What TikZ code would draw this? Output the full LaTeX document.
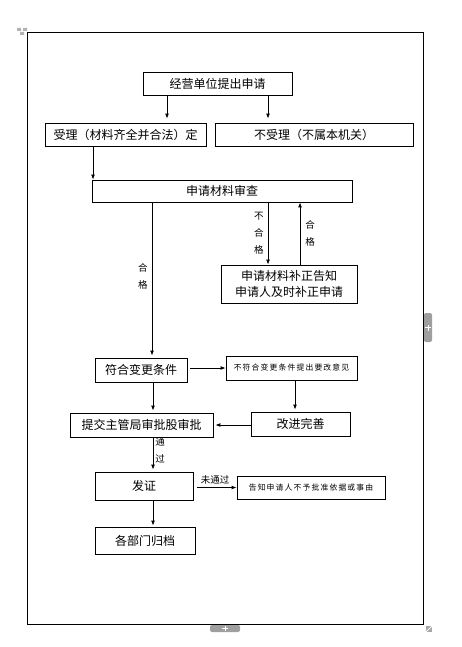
\documentclass[tikz,border=0pt]{standalone}
\usepackage{fontspec}
\setmainfont{Noto Sans CJK SC}
\newfontfamily\spaced[LetterSpace=15]{Noto Sans CJK SC}
\usetikzlibrary{arrows.meta}
\usetikzlibrary{positioning}
\newcommand{\stacked}[1]{%
    \begin{tabular}{@{}c@{}}
        #1
    \end{tabular}%
}
\begin{document}
\begin{tikzpicture}[x=1pt, y=-1pt,
                    box/.style={
                        draw, line width=0.8pt, inner sep=0pt,
                        font=\fontsize{12}{16}\selectfont
                    },
                    smallbox/.style={
                        box, font=\spaced\fontsize{7.8}{9}\selectfont
                    },
                    flow/.style={
                        draw, line width=0.9pt,
                        -{Latex[length=5pt,width=4pt]}
                    },
                    tag/.style={
                        inner sep=0pt,
                        font=\fontsize{9.5}{17}\selectfont
                    },
                    handle/.style={
                        fill=gray!75, draw=none
                    }]

    \useasboundingbox (0,0) rectangle (461,647);
    \draw[line width=0.8pt] (27,32) rectangle (423,624);

    % editor handles
    \fill[gray!60] (17,28) rectangle (21,31) (23,28) rectangle (27,31) (20,32) rectangle (24,35);
    \path[handle, rounded corners=2pt] (424,313) rectangle (432,342);
    \draw[white, line width=1pt] (425,327.5) -- (431,327.5) (428,324.5) -- (428,330.5);
    \path[handle, rounded corners=2pt] (210,625) rectangle (240,632);
    \draw[white, line width=1pt] (222,628.5) -- (228,628.5) (225,626) -- (225,631);
    \fill[gray!70] (426,626) -- (432,626) -- (432,632) -- (426,632) -- cycle;
    \draw[white, line width=0.8pt] (426,632) -- (432,626);

    % boxes
    \node[box, minimum width=149pt, minimum height=23pt] (apply) at (217.5,83.5) {经营单位提出申请};
    \node[box, minimum width=161pt, minimum height=23pt] (accept) at (125.5,134.5) {受理（材料齐全并合法）定};
    \node[box, minimum width=198pt, minimum height=23pt] (refuse) at (314,134.5) {不受理（不属本机关）};
    \node[box, minimum width=260pt, minimum height=22pt] (review) at (222,191) {申请材料审查};
    \node[box, minimum width=136pt, minimum height=38pt, align=center] (amend) at (289,284)
        {申请材料补正告知\\申请人及时补正申请};
    \node[box, minimum width=92pt, minimum height=24pt] (meet) at (141,370) {符合变更条件};
    \node[smallbox, minimum width=131pt, minimum height=24pt] (advice) at (291.5,368) {不符合变更条件提出要改意见};
    \node[box, minimum width=99pt, minimum height=24pt] (improve) at (300.5,424) {改进完善};
    \node[box, minimum width=143pt, minimum height=24pt] (submit) at (141.5,425) {提交主管局审批股审批};
    \node[box, minimum width=98pt, minimum height=28pt] (issue) at (144,486) {发证};
    \node[smallbox, minimum width=148pt, minimum height=23pt] (inform) at (311,487.5) {告知申请人不予批准依据或事由};
    \node[box, minimum width=100pt, minimum height=27pt] (archive) at (145,540.5) {各部门归档};

    % connector starts
    \coordinate (a1) at ([xshift=-50.5pt]apply.south);
    \coordinate (a2) at ([xshift=50.5pt]apply.south);
    \coordinate (c1) at ([xshift=-32.5pt]accept.south);
    \coordinate (r1) at ([xshift=11pt]meet.north |- review.south);
    \coordinate (r2) at ([xshift=-21pt]amend.north |- review.south);
    \coordinate (m1) at ([xshift=11pt]amend.north);
    \coordinate (v1) at ([xshift=3.5pt]advice.south);
    \coordinate (s1) at ([xshift=11.5pt]submit.north |- meet.south);
    \coordinate (s2) at ([xshift=11.5pt]submit.south);
    \coordinate (i1) at ([xshift=9pt]issue.south);

    % connectors
    \draw[flow, shorten >=4pt] (a1) -- (a1 |- accept.north);
    \draw[flow, shorten >=4pt] (a2) -- (a2 |- refuse.north);
    \draw[flow] (c1) -- (c1 |- review.north);
    \draw[flow, shorten >=2pt] (r1) -- (r1 |- meet.north)
        node[tag, pos=0.48, left=4pt] {\stacked{合\\格}};
    \draw[flow] (r2) -- (r2 |- amend.north)
        node[tag, midway, left=4pt] {\stacked{不\\合\\格}};
    \draw[flow] (m1) -- (m1 |- review.south)
        node[tag, midway, right=5pt] {\stacked{合\\格}};
    \draw[flow, shorten <=3pt] (meet.east |- advice) -- (advice.west);
    \draw[flow, shorten >=2pt] (v1) -- (v1 |- improve.north);
    \draw[flow, shorten >=2pt] (improve.west |- submit) -- (submit.east);
    \draw[flow, shorten >=2pt] (s1) -- (s1 |- submit.north);
    \draw[flow, shorten >=2pt] (s2) -- (s2 |- issue.north)
        node[tag, pos=0.4, right=2pt] {\stacked{通\\过}};
    \draw[flow, shorten <=4pt] (issue.east |- inform) -- (inform.west)
        node[tag, midway, above=3pt] {未通过};
    \draw[flow, shorten >=1pt] (i1) -- (i1 |- archive.north);

\end{tikzpicture}
\end{document}
